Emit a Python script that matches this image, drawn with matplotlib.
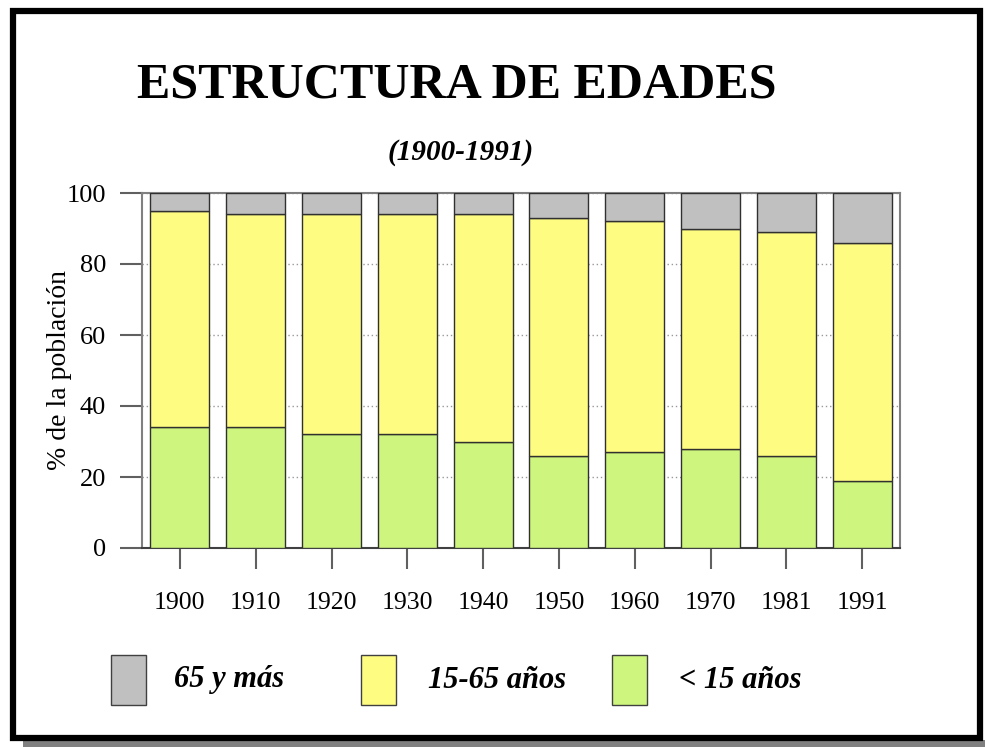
import matplotlib
matplotlib.use("Agg")
import matplotlib.pyplot as plt
from matplotlib.patches import Rectangle
import numpy as np

years = ["1900", "1910", "1920", "1930", "1940", "1950", "1960", "1970", "1981", "1991"]
menores_15 = [34, 34, 32, 32, 30, 26, 27, 28, 26, 19]
de_15_65 = [61, 60, 62, 62, 64, 67, 65, 62, 63, 67]
mayores_65 = [5, 6, 6, 6, 6, 7, 8, 10, 11, 14]
series_labels = ["65 y más", "15-65 años", "< 15 años"]
series_colors = ["#C0C0C0", "#FFFC82", "#CEF57E"]
y_ticks = [0, 20, 40, 60, 80, 100]

W, H = 985, 747
fig = plt.figure(figsize=(W / 100, H / 100), dpi=100)
fig.patch.set_facecolor("white")

def fx(px):
    return px / W

def fy(py):
    return 1 - py / H

serif = ["Liberation Serif", "DejaVu Serif"]

# outer frame and shadow
fig.patches.append(Rectangle((fx(23), fy(747)), fx(985) - fx(23), 7 / H,
                             transform=fig.transFigure, facecolor="#808080",
                             edgecolor="none", zorder=0))
fig.patches.append(Rectangle((fx(12.5), fy(737.5)), (979.5 - 12.5) / W, (737.5 - 10.5) / H,
                             transform=fig.transFigure, facecolor="none",
                             edgecolor="black", linewidth=4.5, zorder=1))

ax = fig.add_axes([fx(142), fy(548), (900 - 142) / W, (548 - 193) / H])
x = np.arange(len(years))
bw = 0.78
bottoms = np.zeros(len(years))
stack = [(menores_15, series_colors[2]), (de_15_65, series_colors[1]), (mayores_65, series_colors[0])]
for vals, col in stack:
    ax.bar(x, vals, bw, bottom=bottoms, color=col, edgecolor="#303030", linewidth=1.0, zorder=3)
    bottoms = bottoms + np.array(vals)

ax.set_xlim(-0.5, len(years) - 0.5)
ax.set_ylim(0, 100)
ax.set_yticks(y_ticks)
ax.set_yticklabels([str(v) for v in y_ticks], fontfamily=serif, fontsize=19)
ax.set_xticks(x)
ax.set_xticklabels(years, fontfamily=serif, fontsize=18.5)
ax.tick_params(axis="y", direction="out", length=16, width=1.5, color="#606060", pad=10)
ax.tick_params(axis="x", direction="out", length=15, width=1.5, color="#606060", pad=17)
ax.yaxis.grid(True, linestyle=(0, (1, 2)), color="#999999", linewidth=1)
ax.set_axisbelow(True)
for s in ["left", "top", "right"]:
    ax.spines[s].set_color("#808080")
    ax.spines[s].set_linewidth(1.5)
ax.spines["bottom"].set_color("#404040")
ax.spines["bottom"].set_linewidth(1.5)
ax.set_ylabel("% de la población", fontfamily=serif, fontsize=20, labelpad=-4)

# titles
fig.text(fx(457), fy(86), "ESTRUCTURA DE EDADES", ha="center", va="center",
         fontfamily=serif, fontweight="bold", fontsize=36)
fig.text(fx(461), fy(153), "(1900-1991)", ha="center", va="center",
         fontfamily=serif, fontweight="bold", fontstyle="italic", fontsize=21)

# legend
boxes_x = [111, 361, 612]
texts_x = [174, 428, 679]
for bx, tx, lab, col in zip(boxes_x, texts_x, series_labels, series_colors):
    fig.patches.append(Rectangle((fx(bx), fy(705)), 35 / W, 50 / H, transform=fig.transFigure,
                                 facecolor=col, edgecolor="#404040", linewidth=1.0))
    fig.text(fx(tx), fy(680), lab, ha="left", va="center", fontfamily=serif,
             fontweight="bold", fontstyle="italic", fontsize=22)

fig.savefig("out.png", dpi=100)
